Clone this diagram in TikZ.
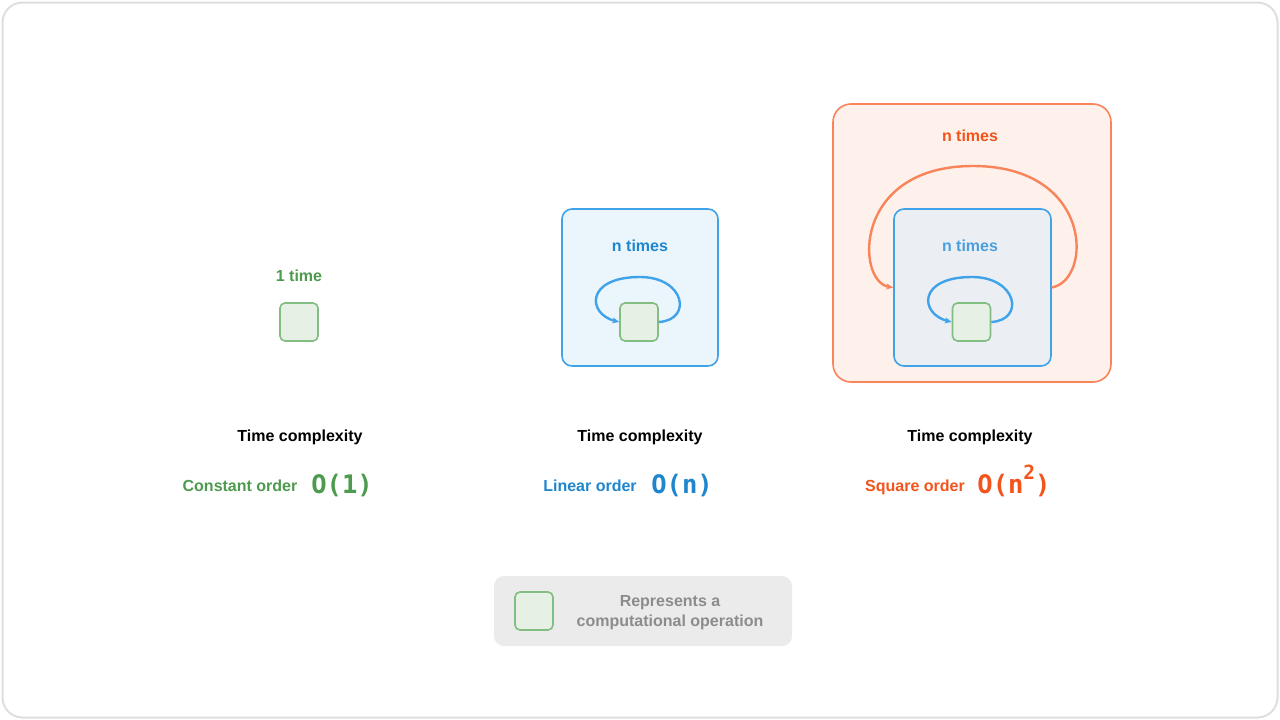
\documentclass[tikz,border=0pt]{standalone}
\usepackage{fontspec}
\setmainfont{Liberation Sans}
\newfontfamily\monof{DejaVu Sans Mono Bold}
\usetikzlibrary{arrows.meta}
\definecolor{gtext}{HTML}{4E9A4E}
\definecolor{opfill}{HTML}{E6F0E5}
\definecolor{opline}{HTML}{82BE82}
\definecolor{btext}{HTML}{1F86CD}
\definecolor{bline}{HTML}{40A2E8}
\definecolor{bfill}{HTML}{EAF5FC}
\definecolor{bfill2}{HTML}{EBEFF4}
\definecolor{btext2}{HTML}{4C9FDC}
\definecolor{otext}{HTML}{F2541B}
\definecolor{oline}{HTML}{F9845A}
\definecolor{ofill}{HTML}{FEF1EC}
\definecolor{legfill}{HTML}{EBEBEB}
\definecolor{legtext}{HTML}{8C8C8C}
\tikzset{
  lbl/.style={font=\bfseries\fontsize{16}{20}\selectfont, inner sep=0pt, anchor=base},
  big/.style={font=\monof\fontsize{25.5}{28}\selectfont, inner sep=0pt, anchor=base},
  opbox/.style={draw=opline, fill=opfill, line width=1.6pt, rounded corners=5pt, minimum width=38pt, minimum height=38pt, inner sep=0pt},
  loopb/.style={draw=bline, line width=2.4pt, -{Stealth[length=7pt,width=6pt]}},
  loopo/.style={draw=oline, line width=2.4pt, -{Stealth[length=7pt,width=6pt]}},
}
\begin{document}
\begin{tikzpicture}[x=1pt,y=-1pt]
\useasboundingbox (0,0) rectangle (1280,720);
\node[draw=black!13, fill=white, line width=2pt, rounded corners=20pt, minimum width=1275pt, minimum height=715pt, inner sep=0pt] (frame) at (640,360) {};

% constant
\node[lbl, text=gtext] (t1) at (299,281) {1 time};
\node[opbox] (op1) at (299,322) {};

% linear
\node[draw=bline, fill=bfill, line width=1.6pt, rounded corners=10pt, minimum width=156pt, minimum height=157pt, inner sep=0pt] (bbox) at (640,287.5) {};
\node[lbl, text=btext] (t2) at (640,251) {n times};
\node[opbox] (op2) at (639,322) {};
\coordinate (top2) at (640,277);
\draw[loopb] (op2.east) .. controls +(34,-2) and +(45,0) .. (top2) .. controls +(-55,0) and +(-32,-8) .. (op2.west);

% square
\node[draw=oline, fill=ofill, line width=1.6pt, rounded corners=18pt, minimum width=278pt, minimum height=278pt, inner sep=0pt] (obox) at (972,243) {};
\node[lbl, text=otext] (t3) at (970,141) {n times};
\node[draw=bline, fill=bfill2, line width=1.6pt, rounded corners=10pt, minimum width=157pt, minimum height=157pt, inner sep=0pt] (ibox) at (972.5,287.5) {};
\node[lbl, text=btext2] (t4) at (970,251) {n times};
\node[opbox] (op3) at (971.5,322) {};
\coordinate (top3) at (972,277);
\draw[loopb] (op3.east) .. controls +(34,-2) and +(45,0) .. (top3) .. controls +(-55,0) and +(-32,-8) .. (op3.west);
\coordinate (otop) at (973,166);
\draw[loopo] (ibox.east) .. controls (1093,280) and (1093,166) .. (otop) .. controls (852,166) and (856,282) .. (ibox.west);

% captions
\node[lbl] (c1) at (300,441) {Time complexity};
\node[lbl] (c2) at (640,441) {Time complexity};
\node[lbl] (c3) at (970,441) {Time complexity};

\node[lbl, text=gtext] (n1) at (240,491) {Constant order};
\node[big, text=gtext] (o1) at (342,493) {O(1)};
\node[lbl, text=btext] (n2) at (590,491) {Linear order};
\node[big, text=btext] (o2) at (682,493) {O(n)};
\node[lbl, text=otext] (n3) at (915,491) {Square order};
\node[big, text=otext] (o3) at (1014,493) {O(n\raisebox{14pt}{\fontsize{19.5}{20}\selectfont 2})};

% legend
\node[fill=legfill, rounded corners=10pt, minimum width=298pt, minimum height=70pt, inner sep=0pt] (leg) at (643,611) {};
\node[opbox] (op4) at (534,611) {};
\node[font=\bfseries\fontsize{16}{20}\selectfont, text=legtext, align=center, inner sep=0pt] (legt) at (670,613) {Represents a\\computational operation};
\end{tikzpicture}
\end{document}
